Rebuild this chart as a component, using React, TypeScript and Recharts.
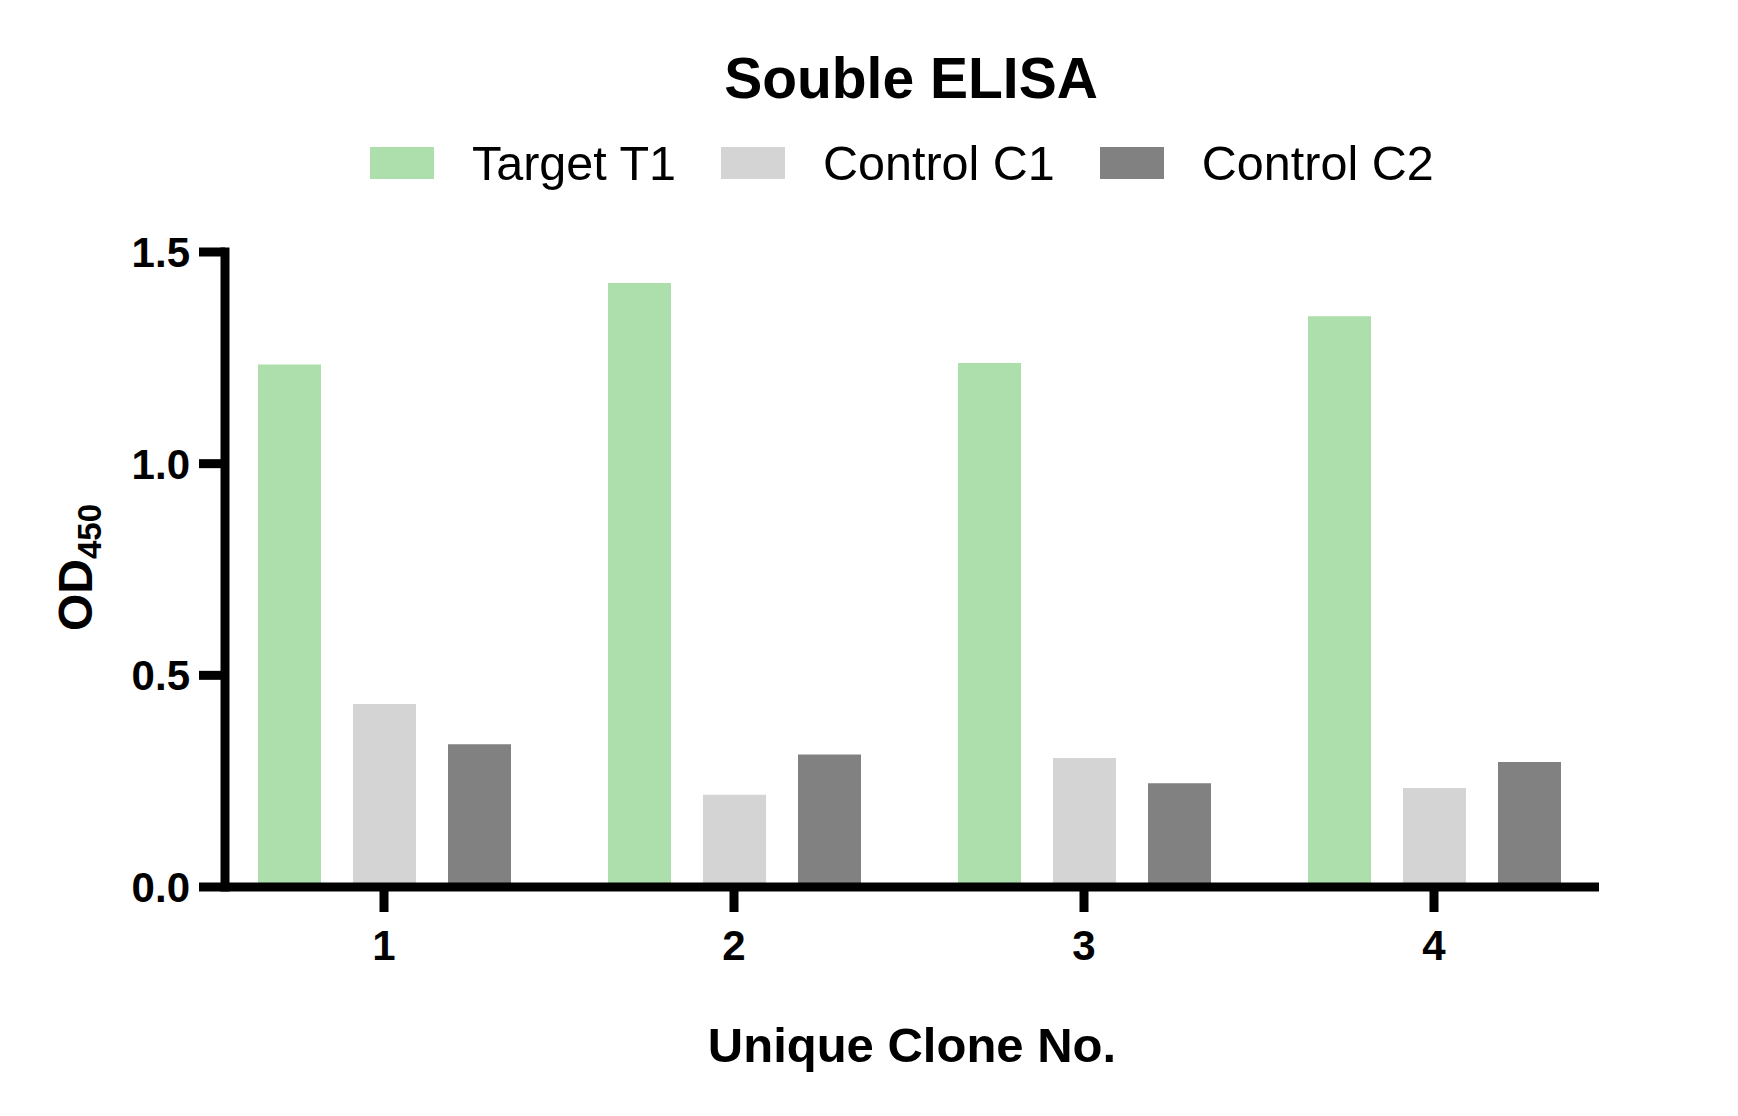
import { BarChart, Bar, XAxis, YAxis, Legend } from "recharts";

const clones = ["1", "2", "3", "4"];
const seriesNames = ["Target T1", "Control C1", "Control C2"];
const targetT1 = [1.234, 1.427, 1.238, 1.348];
const controlC1 = [0.432, 0.218, 0.305, 0.234];
const controlC2 = [0.337, 0.313, 0.245, 0.295];
const yTicks = [0, 0.5, 1.0, 1.5];

const chartData = clones.map((clone, i) => ({
  clone,
  t1: targetT1[i],
  c1: controlC1[i],
  c2: controlC2[i],
}));

const font = "'Liberation Sans', Arial, Helvetica, sans-serif";

const axisLine = { stroke: "#000", strokeWidth: 9 };

function renderLegend(props: any) {
  // keep the series order, not alphabetical
  const payload = [...(props.payload || [])].sort(
    (a: any, b: any) => seriesNames.indexOf(a.value) - seriesNames.indexOf(b.value)
  );
  return (
    <div style={{ display: "flex", alignItems: "center", fontFamily: font }}>
      {payload.map((entry: any) => (
        <div
          key={entry.value}
          style={{ display: "flex", alignItems: "center", marginRight: 45 }}
        >
          <span
            style={{
              display: "inline-block",
              width: 64,
              height: 32,
              background: entry.color,
              marginRight: 38,
            }}
          />
          <span style={{ fontSize: 48.5, lineHeight: "32px", color: "#000" }}>
            {entry.value}
          </span>
        </div>
      ))}
    </div>
  );
}

function YLabel(props: any) {
  const { viewBox } = props;
  const cx = 92;
  const cy = viewBox.y + viewBox.height / 2 - 2;
  return (
    <text
      x={cx}
      y={cy}
      transform={`rotate(-90, ${cx}, ${cy})`}
      textAnchor="middle"
      fontFamily={font}
      fontWeight="bold"
      fill="#000"
    >
      <tspan fontSize={48}>OD</tspan>
      <tspan fontSize={33} dy={9}>
        450
      </tspan>
    </text>
  );
}

function XLabel(props: any) {
  const { viewBox } = props;
  return (
    <text
      x={viewBox.x + viewBox.width / 2}
      y={viewBox.y + 175}
      textAnchor="middle"
      fontFamily={font}
      fontWeight="bold"
      fontSize={49}
      fill="#000"
    >
      Unique Clone No.
    </text>
  );
}

export default function App() {
  return (
    <div style={{ width: 1738, height: 1116, background: "#fff" }}>
      <style>{`body{margin:0;background:#fff}`}</style>
      <BarChart
        width={1738}
        height={1116}
        data={chartData}
        margin={{ top: 252, right: 139, bottom: 0, left: 0 }}
        barSize={63}
        barGap={32}
      >
        <text
          x={911}
          y={98}
          textAnchor="middle"
          fontFamily={font}
          fontWeight="bold"
          fontSize={57}
          fill="#000"
        >
          Souble ELISA
        </text>

        <XAxis
          dataKey="clone"
          height={229}
          padding={{ left: -16, right: -10 }}
          axisLine={axisLine}
          tickLine={axisLine}
          tickSize={25}
          tickMargin={18}
          tick={{ fill: "#000", fontSize: 42, fontWeight: "bold", fontFamily: font }}
          label={<XLabel />}
        />

        <YAxis
          width={225}
          domain={[0, 1.5]}
          ticks={yTicks}
          tickFormatter={(v: number) => v.toFixed(1)}
          axisLine={{ ...axisLine, strokeLinecap: "square" }}
          tickLine={axisLine}
          tickSize={26}
          tickMargin={9}
          tick={{ fill: "#000", fontSize: 42, fontWeight: "bold", fontFamily: font }}
          label={<YLabel />}
        />

        <Legend
          layout="horizontal"
          verticalAlign="middle"
          align="center"
          wrapperStyle={{ top: 147, left: 370, width: 1300, height: 40 }}
          content={renderLegend}
        />

        <Bar dataKey="t1" name={seriesNames[0]} fill="#acdfac" isAnimationActive={false} />
        <Bar dataKey="c1" name={seriesNames[1]} fill="#d4d4d4" isAnimationActive={false} />
        <Bar dataKey="c2" name={seriesNames[2]} fill="#818181" isAnimationActive={false} />
      </BarChart>
    </div>
  );
}
